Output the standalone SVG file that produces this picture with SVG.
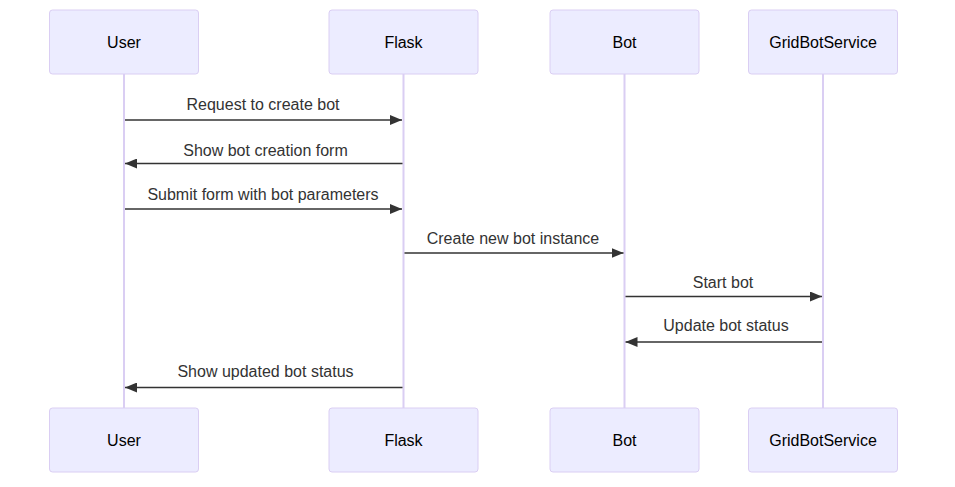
<svg xmlns="http://www.w3.org/2000/svg" width="955" height="487" viewBox="0 0 955 487">
<style>
.actor{fill:#ECECFF;stroke:hsl(259.6,59.8%,87.9%);stroke-width:1}
.atext{font-family:"Liberation Sans",Arial,sans-serif;font-size:16px;fill:#000;text-anchor:middle;dominant-baseline:central}
.life{stroke:hsl(259.6,59.8%,87.9%);stroke-width:2}
.msg{stroke:#333;stroke-width:1.5;fill:none;marker-end:url(#arrow)}
.mtext{font-family:"Liberation Sans",Arial,sans-serif;font-size:16px;fill:#333;text-anchor:middle}
</style>
<defs>
<marker id="arrow" viewBox="0 0 12 10" refX="12" refY="5" markerWidth="12" markerHeight="10" markerUnits="userSpaceOnUse" orient="auto">
<path d="M0,0 L12,5 L0,10 z" fill="#333"/>
</marker>
</defs>
<rect width="955" height="487" fill="#fff"/>
<g id="lifelines">
<line class="life" x1="124" y1="74" x2="124" y2="408"/>
<line class="life" x1="403.5" y1="74" x2="403.5" y2="408"/>
<line class="life" x1="624.5" y1="74" x2="624.5" y2="408"/>
<line class="life" x1="823" y1="74" x2="823" y2="408"/>
</g>
<g id="User">
<rect class="actor" x="49.5" y="10" width="149" height="64" rx="3"/>
<text class="atext" x="124" y="42">User</text>
<rect class="actor" x="49.5" y="408" width="149" height="64" rx="3"/>
<text class="atext" x="124" y="440">User</text>
</g>
<g id="Flask">
<rect class="actor" x="329" y="10" width="149" height="64" rx="3"/>
<text class="atext" x="403.5" y="42">Flask</text>
<rect class="actor" x="329" y="408" width="149" height="64" rx="3"/>
<text class="atext" x="403.5" y="440">Flask</text>
</g>
<g id="Bot">
<rect class="actor" x="550" y="10" width="149" height="64" rx="3"/>
<text class="atext" x="624.5" y="42">Bot</text>
<rect class="actor" x="550" y="408" width="149" height="64" rx="3"/>
<text class="atext" x="624.5" y="440">Bot</text>
</g>
<g id="GridBotService">
<rect class="actor" x="748.5" y="10" width="149" height="64" rx="3"/>
<text class="atext" x="823" y="42">GridBotService</text>
<rect class="actor" x="748.5" y="408" width="149" height="64" rx="3"/>
<text class="atext" x="823" y="440">GridBotService</text>
</g>
<g id="connectors">
<line class="msg" x1="125" y1="120" x2="402" y2="120"/>
<text class="mtext" x="263" y="109.5">Request to create bot</text>
<line class="msg" x1="402.5" y1="163.5" x2="125" y2="163.5"/>
<text class="mtext" x="265.5" y="155.5">Show bot creation form</text>
<line class="msg" x1="125" y1="209" x2="402" y2="209"/>
<text class="mtext" x="263" y="199.5">Submit form with bot parameters</text>
<line class="msg" x1="404.5" y1="253" x2="623.5" y2="253"/>
<text class="mtext" x="513" y="244">Create new bot instance</text>
<line class="msg" x1="625.5" y1="296.5" x2="822" y2="296.5"/>
<text class="mtext" x="723" y="288">Start bot</text>
<line class="msg" x1="822" y1="342" x2="625.5" y2="342"/>
<text class="mtext" x="726" y="331">Update bot status</text>
<line class="msg" x1="402.5" y1="387.5" x2="125" y2="387.5"/>
<text class="mtext" x="265.5" y="377">Show updated bot status</text>
</g>
</svg>
